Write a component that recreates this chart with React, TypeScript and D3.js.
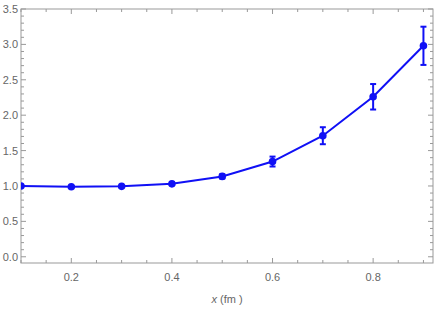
import React from "react";
import * as d3 from "d3";

const xValues = [0.1, 0.2, 0.3, 0.4, 0.5, 0.6, 0.7, 0.8, 0.9];
const yValues = [1.0, 0.99, 0.995, 1.03, 1.135, 1.345, 1.71, 2.26, 2.98];
const yErrors = [0.005, 0.005, 0.005, 0.02, 0.03, 0.07, 0.12, 0.18, 0.27];
const xTickLabels = [0.2, 0.4, 0.6, 0.8];
const yTickLabels = [0, 0.5, 1, 1.5, 2, 2.5, 3, 3.5];

const W = 436;
const H = 310;
const left = 21;
const right = 433;
const top = 9;
const bottom = 263;

const App = () => {
  const x = d3.scaleLinear().domain([0.1, 0.919]).range([left, right]);
  const y = d3.scaleLinear().domain([-0.088, 3.5]).range([bottom, top]);

  const line = d3
    .line<number>()
    .x((d, i) => x(xValues[i]))
    .y((d) => y(d));

  const xMinor = d3.range(0.1, 0.92, 0.05).filter((v) => !xTickLabels.some((t) => Math.abs(t - v) < 1e-6));
  const yMinor = d3.range(0, 3.51, 0.1).filter((v) => !yTickLabels.some((t) => Math.abs(t - v) < 1e-6));

  const axisColor = "#999";
  const textColor = "#666";
  const blue = "#1010f5";

  return (
    <svg
      width={W}
      height={H}
      style={{ position: "absolute", left: 0, top: 0, fontFamily: "Liberation Sans, Arial, sans-serif" }}
    >
      <defs>
        <clipPath id="plotArea">
          <rect x={left} y={top} width={right - left} height={bottom - top} />
        </clipPath>
      </defs>
      <rect x={left} y={top} width={right - left} height={bottom - top} fill="white" stroke={axisColor} strokeWidth={1} />
      {/* x ticks top and bottom */}
      {xTickLabels.map((t) => (
        <g key={"xt" + t}>
          <line x1={x(t)} x2={x(t)} y1={bottom} y2={bottom - 5} stroke={axisColor} />
          <line x1={x(t)} x2={x(t)} y1={top} y2={top + 5} stroke={axisColor} />
          <text x={x(t)} y={281} textAnchor="middle" fontSize={11} fill={textColor}>
            {d3.format(".1f")(t)}
          </text>
        </g>
      ))}
      {xMinor.map((t) => (
        <g key={"xm" + t}>
          <line x1={x(t)} x2={x(t)} y1={bottom} y2={bottom - 3} stroke={axisColor} />
          <line x1={x(t)} x2={x(t)} y1={top} y2={top + 3} stroke={axisColor} />
        </g>
      ))}
      {/* y ticks left and right */}
      {yTickLabels.map((t) => (
        <g key={"yt" + t}>
          <line x1={left} x2={left + 5} y1={y(t)} y2={y(t)} stroke={axisColor} />
          <line x1={right} x2={right - 5} y1={y(t)} y2={y(t)} stroke={axisColor} />
          <text x={18} y={y(t) + 4} textAnchor="end" fontSize={11} fill={textColor}>
            {d3.format(".1f")(t)}
          </text>
        </g>
      ))}
      {yMinor.map((t) => (
        <g key={"ym" + t}>
          <line x1={left} x2={left + 3} y1={y(t)} y2={y(t)} stroke={axisColor} />
          <line x1={right} x2={right - 3} y1={y(t)} y2={y(t)} stroke={axisColor} />
        </g>
      ))}
      <text x={227} y={303} textAnchor="middle" fontSize={11} fill={textColor}>
        <tspan fontStyle="italic">x</tspan> (fm )
      </text>
      <g clipPath="url(#plotArea)">
        <path d={line(yValues) || ""} fill="none" stroke={blue} strokeWidth={2} />
        {yValues.map((v, i) => (
          <g key={"p" + i}>
            <line x1={x(xValues[i])} x2={x(xValues[i])} y1={y(v - yErrors[i])} y2={y(v + yErrors[i])} stroke={blue} strokeWidth={2} />
            <line x1={x(xValues[i]) - 3} x2={x(xValues[i]) + 3} y1={y(v - yErrors[i])} y2={y(v - yErrors[i])} stroke={blue} strokeWidth={2} />
            <line x1={x(xValues[i]) - 3} x2={x(xValues[i]) + 3} y1={y(v + yErrors[i])} y2={y(v + yErrors[i])} stroke={blue} strokeWidth={2} />
            <circle cx={x(xValues[i])} cy={y(v)} r={3.8} fill={blue} />
          </g>
        ))}
      </g>
    </svg>
  );
};

export default App;
